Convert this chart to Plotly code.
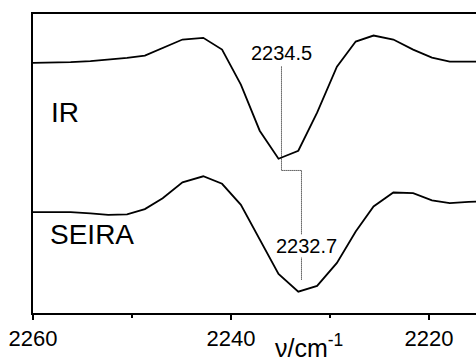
import plotly.graph_objects as go

# wavenumber grid (cm^-1)
wavenumber = [2260.0, 2258.1, 2256.2, 2254.2, 2252.4, 2250.5, 2248.7, 2246.9,
              2244.9, 2242.8, 2240.9, 2239.0, 2237.1, 2235.2, 2233.2, 2231.3,
              2229.3, 2227.4, 2225.6, 2223.6, 2221.6, 2219.7, 2217.9, 2216.0, 2214.0]

# IR spectrum (arbitrary units, offset)
ir = [2.497, 2.500, 2.505, 2.515, 2.530, 2.547, 2.570, 2.647,
      2.730, 2.747, 2.630, 2.280, 1.820, 1.540, 1.620, 2.000,
      2.460, 2.710, 2.770, 2.730, 2.630, 2.550, 2.510, 2.510, 2.510]

# SEIRA spectrum (arbitrary units, offset)
seira = [1.007, 1.007, 1.007, 0.995, 0.980, 0.985, 1.037, 1.145,
         1.305, 1.365, 1.290, 1.080, 0.730, 0.390, 0.213, 0.270,
         0.500, 0.813, 1.063, 1.203, 1.197, 1.125, 1.097, 1.110, 1.113]

# peak marker (dotted connector)
marker_x = [2234.9, 2234.9, 2232.88, 2232.88]
marker_y = [2.46, 1.423, 1.423, 0.33]
peak_labels = ["2234.5", "2232.7"]

tick_vals = [2260, 2240, 2220]
tick_text = ["2260", "2240", "2220"]

FONT = "Arial, Liberation Sans, sans-serif"

fig = go.Figure()
fig.add_trace(go.Scatter(x=wavenumber, y=ir, mode="lines",
                         line=dict(color="black", width=1.8), showlegend=False))
fig.add_trace(go.Scatter(x=wavenumber, y=seira, mode="lines",
                         line=dict(color="black", width=1.8), showlegend=False))
fig.add_trace(go.Scatter(x=marker_x, y=marker_y, mode="lines",
                         line=dict(color="black", width=1, dash="1px,1px"),
                         showlegend=False))

fig.add_annotation(x=2258.4, y=2.0, xref="x", yref="y", text="IR",
                   showarrow=False, xanchor="left", yanchor="middle",
                   font=dict(family=FONT, size=28, color="black"))
fig.add_annotation(x=2258.5, y=0.78, xref="x", yref="y", text="SEIRA",
                   showarrow=False, xanchor="left", yanchor="middle",
                   font=dict(family=FONT, size=28, color="black"))
fig.add_annotation(x=2234.9, y=2.60, xref="x", yref="y", text=peak_labels[0],
                   showarrow=False, xanchor="center", yanchor="middle",
                   font=dict(family=FONT, size=20, color="black"))
fig.add_annotation(x=2232.35, y=0.67, xref="x", yref="y", text=peak_labels[1],
                   showarrow=False, xanchor="center", yanchor="middle",
                   bgcolor="white", borderpad=0,
                   font=dict(family=FONT, size=20, color="black"))
fig.add_annotation(x=2232.1, y=-0.172, xref="x", yref="paper",
                   text="ν/cm<sup>-1</sup>",
                   showarrow=False, xanchor="center", yanchor="bottom",
                   font=dict(family=FONT, size=25, color="black"))

fig.update_xaxes(range=[2260, 2215.25], showline=True, linecolor="black",
                 linewidth=2, mirror=True, ticks="outside", ticklen=5,
                 tickwidth=2, tickcolor="black", tickvals=tick_vals,
                 ticktext=tick_text, showgrid=False, zeroline=False,
                 automargin=False,
                 tickfont=dict(family=FONT, size=22, color="black"),
                 minor=dict(tickvals=[2250, 2230], ticks="outside",
                            ticklen=3, tickwidth=2, tickcolor="black"))
fig.update_yaxes(range=[0, 2.985], showline=True, linecolor="black",
                 linewidth=2, mirror=False, showticklabels=False, ticks="",
                 showgrid=False, zeroline=False, automargin=False)

fig.update_layout(width=476, height=362,
                  margin=dict(l=33, r=0, t=14, b=49, autoexpand=False),
                  plot_bgcolor="white", paper_bgcolor="white")

fig.write_html("out.html", config={"displayModeBar": False},
               post_script="document.body.style.margin='0px';"
                           "document.body.style.overflow='hidden';")
